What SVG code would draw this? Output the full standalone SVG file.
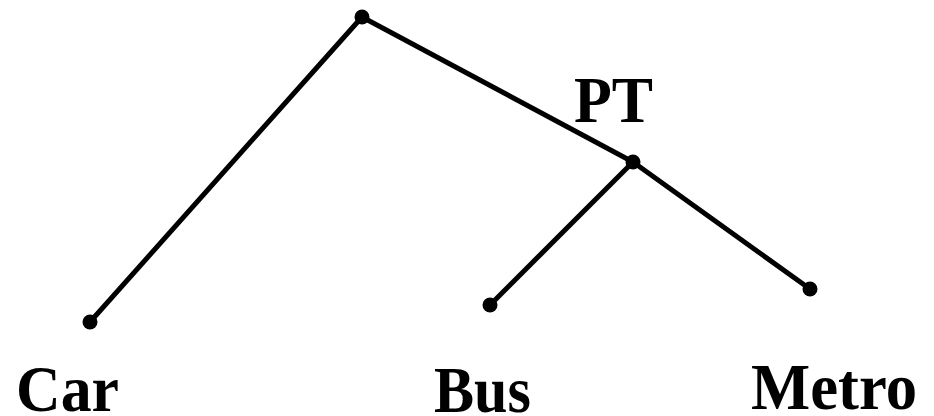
<svg xmlns="http://www.w3.org/2000/svg" width="934" height="416" viewBox="0 0 934 416">
<style>
.e{stroke:#000;stroke-width:5;fill:none;stroke-linecap:round}
.d{fill:#000}
.t{font-family:"Liberation Serif","Times New Roman",serif;font-weight:bold;font-size:66px;fill:#000}
</style>
<rect width="934" height="416" fill="#fff"/>
<g id="connectors">
<line class="e" x1="362" y1="17" x2="90" y2="322"/>
<line class="e" x1="362" y1="17" x2="633" y2="162"/>
<line class="e" x1="633" y1="162" x2="490" y2="305"/>
<line class="e" x1="633" y1="162" x2="810" y2="289"/>
</g>
<g id="root"><circle class="d" cx="362" cy="17" r="7.5"/></g>
<g id="pt"><circle class="d" cx="633" cy="162" r="7.5"/><text class="t" x="574" y="122" textLength="79" lengthAdjust="spacingAndGlyphs">PT</text></g>
<g id="car"><circle class="d" cx="90" cy="322" r="7.5"/><text class="t" x="16" y="411" textLength="103" lengthAdjust="spacingAndGlyphs">Car</text></g>
<g id="bus"><circle class="d" cx="490" cy="305" r="7.5"/><text class="t" x="434" y="412" textLength="97" lengthAdjust="spacingAndGlyphs">Bus</text></g>
<g id="metro"><circle class="d" cx="810" cy="289" r="7.5"/><text class="t" x="751" y="409" textLength="166" lengthAdjust="spacingAndGlyphs">Metro</text></g>
</svg>
